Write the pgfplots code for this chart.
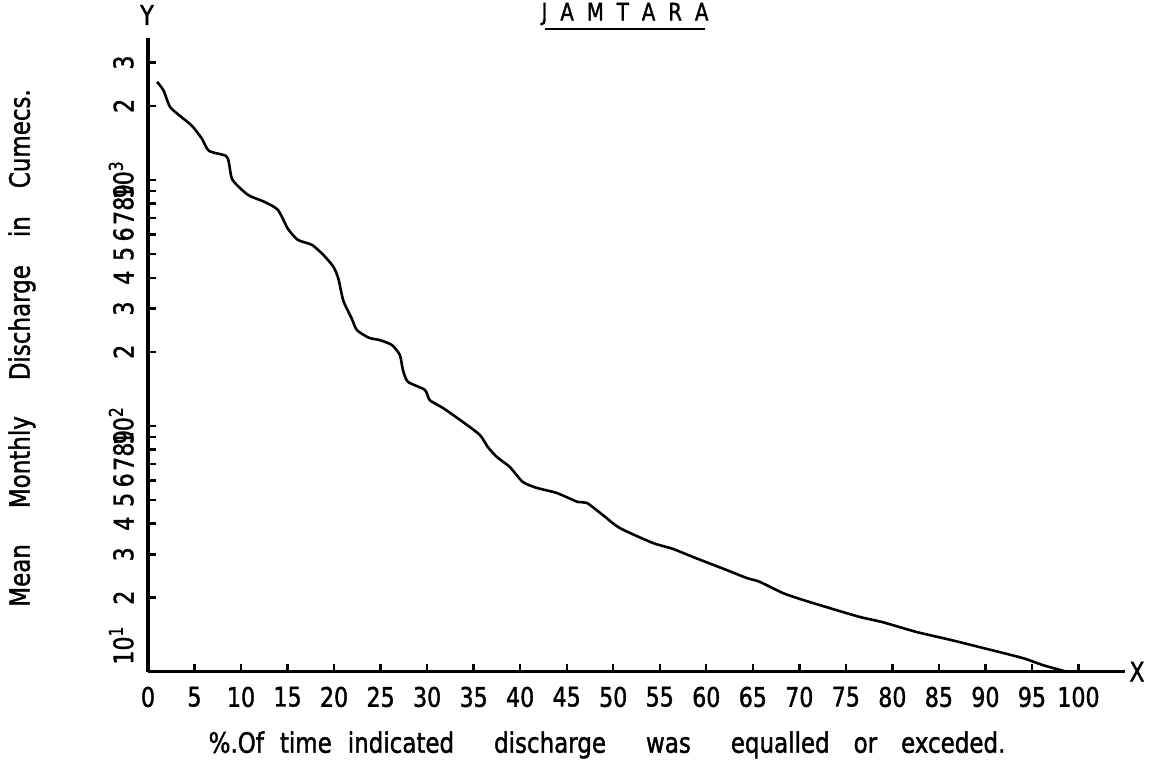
\documentclass[border=0pt]{standalone}
\usepackage{fontspec}
\setmainfont{DejaVu Sans}[FakeStretch=0.82, FakeBold=1.4]
\usepackage{pgfplots}
\usepackage{pgfplotstable}
\pgfplotsset{compat=1.18}

% Flow duration data: percent of time exceeded vs mean monthly discharge (cumecs)
\pgfplotstableread{
x      y
0.97   2503
1.66   2312
2.36   1982
3.44   1820
4.73   1658
5.80   1469
6.55   1312
8.38   1252
8.70   1172
9.08   1000
10.74  869
12.51  814
13.96  755
15.04  632
16.11  570
17.62  544
18.85  495
19.93  443
20.46  396
21.00  322
21.91  272
22.45  245
23.74  228
24.92  223
26.21  213
27.07  194
27.39  169
27.93  151
29.75  140
30.29  127
31.69  118.2
33.83  103.7
35.66  91.8
36.52  82.0
37.49  74.7
38.88  68.0
40.28  59.1
41.78  55.9
43.93  53.3
46.19  49.0
47.15  48.6
48.87  43.4
50.70  38.4
54.24  33.4
56.39  31.6
58.54  29.3
62.19  25.9
64.34  24.05
65.74  23.2
68.21  20.9
70.35  19.6
72.93  18.3
76.48  16.7
78.95  15.9
82.60  14.5
86.14  13.5
89.69  12.5
93.98  11.37
96.13  10.65
98.50  10.05
}\flowduration

\newcommand{\gap}{\hspace{6.5pt}}

\begin{document}
\begin{tikzpicture}
\begin{axis}[
  at={(0,0)}, anchor=south west,
  scale only axis, width=488.5pt, height=317pt,
  xmin=0, xmax=105, ymin=10, ymax=3786,
  ymode=log,
  axis lines=left,
  axis line style={-, line width=1.6pt},
  tick style={black, line width=1.2pt},
  major tick length=4pt,
  tick align=inside,
  xminorticks=false, yminorticks=false,
  xtick={0,5,...,100},
  xticklabels={0,5,10,15,20,25,30,35,40,45,50,55,60,65,70,75,80,85,90,95,100},
  ytick={20,30,40,50,60,70,80,90,100,200,300,400,500,600,700,800,900,1000,2000,3000},
  yticklabels={2,3,4,5,6,7,8,9,10\textsuperscript{2},2,3,4,5,6,7,8,9,10\textsuperscript{3},2,3},
  extra y ticks={10},
  extra y tick labels={10\textsuperscript{1}},
  extra y tick style={yticklabel style={anchor=south west}},
  ticklabel style={font=\fontsize{13.5}{15}\selectfont},
  xticklabel style={yshift=-4pt},
  yticklabel style={rotate=90, anchor=south, inner ysep=7pt},
  clip=false,
]
\addplot[black, line width=1.3pt, smooth, tension=0.4] table[x=x, y=y] {\flowduration};
\end{axis}

% axis letters
\node[font=\fontsize{13.5}{15}\selectfont] at (-0.5pt, 328.35pt) {Y};
\node[font=\fontsize{13.5}{15}\selectfont] at (494.5pt, 0pt) {X};

% title with underline
\node[anchor=north, inner sep=0pt, font=\fontsize{12}{14}\selectfont] at (238.5pt, 334.6pt)
  {J\gap A\gap M\gap T\gap A\gap R\gap A};
\draw[line width=1.4pt] (198.5pt, 321.3pt) -- (278.5pt, 321.3pt);

% axis titles
\node[rotate=90, font=\fontsize{14}{16}\selectfont] at (-63pt, 161.85pt)
  {Mean\hspace{18pt}Monthly\hspace{18pt}Discharge\hspace{14pt}in\hspace{14pt}Cumecs.};
\node[font=\fontsize{14}{16}\selectfont] at (229.5pt, -36.65pt)
  {\%.Of\hspace{8pt}time\hspace{8pt}indicated\hspace{20pt}discharge\hspace{20pt}was\hspace{20pt}equalled\hspace{12pt}or\hspace{12pt}exceded.};

\pgfresetboundingbox
\path[use as bounding box] (-74pt, -48.65pt) rectangle (503.5pt, 335.85pt);
\end{tikzpicture}
\end{document}
